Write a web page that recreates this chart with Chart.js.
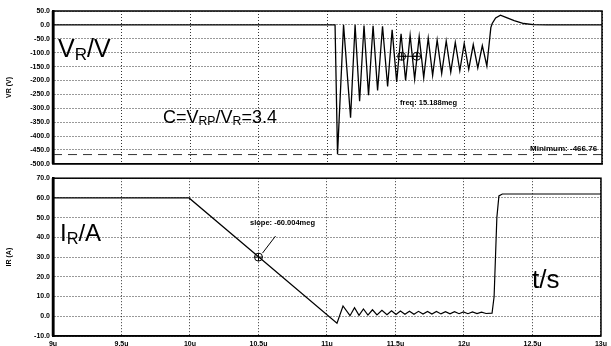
<!DOCTYPE html>
<html>
<head>
<meta charset="utf-8">
<script src="https://cdn.jsdelivr.net/npm/chart.js@4.4.1/dist/chart.umd.min.js"></script>
<style>
  html, body { margin: 0; padding: 0; background: #fff; }
  #wrap { position: relative; width: 611px; height: 346px; overflow: hidden; font-family: 'Liberation Sans', Arial, sans-serif; color: #000; }
  .panel { position: absolute; left: 0; width: 611px; }
  .big { position: absolute; line-height: 1; white-space: nowrap; }
  .big sub { font-size: 0.68em; vertical-align: -0.18em; line-height: 0; }
  .small { position: absolute; font-size: 7.5px; font-weight: bold; line-height: 1; white-space: nowrap; }
</style>
</head>
<body>
<div id="wrap">
  <div class="panel" style="top:0;height:171px"><canvas id="vrChart"></canvas></div>
  <div class="panel" style="top:171px;height:175px"><canvas id="irChart"></canvas></div>

  <div class="big" style="left:58px;top:36px;font-size:25px">V<sub>R</sub>/V</div>
  <div class="big" style="left:163px;top:108px;font-size:18px">C=V<sub>RP</sub>/V<sub>R</sub>=3.4</div>
  <div class="small" style="left:400px;top:99px">freq: 15.188meg</div>
  <div class="small" style="left:530px;top:145px;font-size:8px">Minimum: -466.76</div>
  <div class="big" style="left:60px;top:221px;font-size:24px">I<sub>R</sub>/A</div>
  <div class="small" style="left:250px;top:219px">slope: -60.004meg</div>
  <div class="big" style="left:532px;top:266px;font-size:26px">t/s</div>
</div>

<script>
// --- данные (время в мкс) ---
const xTickLabels = ['9u', '9.5u', '10u', '10.5u', '11u', '11.5u', '12u', '12.5u', '13u'];

// напряжение VR, В
const vrTime = [9, 11.055, 11.073,
  11.117, 11.168, 11.201, 11.234, 11.266, 11.299, 11.332, 11.365,
  11.401, 11.438, 11.471, 11.504, 11.536, 11.569, 11.602, 11.635,
  11.668, 11.701, 11.734, 11.766, 11.799, 11.832, 11.865, 11.898,
  11.931, 11.964, 11.996, 12.029, 12.062, 12.095, 12.128, 12.161,
  12.19, 12.2, 12.225, 12.26, 12.3, 12.36, 12.43, 12.5, 12.6, 13];
const vrValue = [0, 0, -466,
  0, -334, 0, -275, -2, -253, -3, -236,
  -5, -222, -18, -205, -32, -200, -38, -195,
  -42, -190, -48, -182, -54, -175, -58, -170,
  -63, -165, -67, -160, -71, -155, -75, -148,
  -10, 5, 25, 35, 27, 15, 5, 1, 0, 0];
const vrMinimum = -466.76;
const cursorTime = [11.54, 11.65];
const cursorValue = [-113, -113];

// ток IR, А
const irTime = [9, 9.993, 11.073,
  11.117, 11.168, 11.201, 11.234, 11.266, 11.299, 11.332, 11.365,
  11.401, 11.438, 11.471, 11.504, 11.536, 11.569, 11.602, 11.635,
  11.668, 11.701, 11.734, 11.766, 11.799, 11.832, 11.865, 11.898,
  11.931, 11.964, 11.996, 12.029, 12.062, 12.095, 12.128, 12.161,
  12.205, 12.22, 12.24, 12.255, 12.28, 13];
const irValue = [60, 60, -3.5,
  5.2, 0.3, 4.3, 0.5, 3.7, 0.6, 3.3, 0.7,
  3.0, 0.8, 2.8, 0.9, 2.7, 1.0, 2.6, 1.0,
  2.5, 1.1, 2.4, 1.1, 2.4, 1.2, 2.3, 1.2,
  2.3, 1.3, 2.2, 1.3, 2.2, 1.4, 2.1, 1.4,
  1.6, 10, 50, 61, 62, 62];
const slopeTime = [10.5];
const slopeValue = [30];

const FONT = "'Liberation Sans', Arial, sans-serif";
const toXY = (ts, vs) => ts.map((t, i) => ({ x: t, y: vs[i] }));

// рамка вокруг области графика
const framePlugin = {
  id: 'frame',
  afterDatasetsDraw(chart) {
    const { ctx, chartArea: a } = chart;
    ctx.save();
    ctx.strokeStyle = '#000';
    ctx.lineWidth = 1.5;
    ctx.strokeRect(a.left, a.top, a.right - a.left, a.bottom - a.top);
    ctx.lineWidth = 2.5;
    ctx.beginPath();
    ctx.moveTo(a.left, a.top);
    ctx.lineTo(a.left, a.bottom);
    ctx.stroke();
    ctx.restore();
  }
};

// выноска от подписи slope к маркеру
const leaderPlugin = {
  id: 'leader',
  afterDatasetsDraw(chart) {
    const { ctx, scales } = chart;
    const px = scales.x.getPixelForValue(slopeTime[0]);
    const py = scales.y.getPixelForValue(slopeValue[0]);
    ctx.save();
    ctx.strokeStyle = '#000';
    ctx.lineWidth = 1;
    ctx.beginPath();
    ctx.moveTo(px + 4, py - 4);
    ctx.lineTo(px + 17, py - 21);
    ctx.stroke();
    ctx.restore();
  }
};

function xScale(showLabels) {
  return {
    type: 'linear', min: 9, max: 13,
    ticks: {
      stepSize: 0.5, display: showLabels, autoSkip: false, maxRotation: 0,
      color: '#000', padding: 4, font: { family: FONT, size: 7, weight: 'bold' },
      callback: (v, i) => xTickLabels[i]
    },
    grid: { color: 'rgba(0,0,0,0.8)', lineWidth: 1, drawTicks: false },
    border: { display: true, color: '#000', width: 1.5, dash: [1, 2] },
    afterFit: s => { s.height = showLabels ? 10 : 4; }
  };
}

function yScale(min, max, step, title) {
  return {
    min: min, max: max,
    ticks: {
      stepSize: step, color: '#000', padding: 3,
      font: { family: FONT, size: 7, weight: 'bold' },
      callback: v => v.toFixed(1)
    },
    grid: { color: 'rgba(0,0,0,0.8)', lineWidth: 1, drawTicks: false },
    border: { display: true, color: '#000', width: 2.5, dash: [1, 2] },
    title: {
      display: true, text: title, color: '#000',
      font: { family: FONT, size: 7, weight: 'bold' }, padding: { top: 5, bottom: 0 }
    },
    afterFit: s => { s.width = 53; }
  };
}

const common = {
  responsive: true,
  maintainAspectRatio: false,
  animation: false,
  devicePixelRatio: 1,
  plugins: { legend: { display: false }, tooltip: { enabled: false } }
};

// верхний график: VR
new Chart(document.getElementById('vrChart'), {
  type: 'line',
  data: {
    datasets: [
      { data: toXY(vrTime, vrValue), borderColor: '#000', borderWidth: 1.3, pointRadius: 0, tension: 0 },
      { data: [{ x: 9, y: vrMinimum }, { x: 13, y: vrMinimum }], borderColor: '#333', borderWidth: 1,
        borderDash: [9, 6], pointRadius: 0 },
      { data: toXY(cursorTime, cursorValue), borderColor: '#000', borderWidth: 1, pointRadius: 4,
        pointStyle: 'circle', pointBackgroundColor: 'rgba(0,0,0,0)', pointBorderColor: '#000' },
      { data: toXY(cursorTime, cursorValue), showLine: false, pointRadius: 4, pointStyle: 'cross',
        pointBorderColor: '#000', pointBorderWidth: 1 }
    ]
  },
  options: Object.assign({}, common, {
    layout: { padding: { top: 11, right: 9, bottom: 0, left: 0 } },
    scales: { x: xScale(false), y: yScale(-500, 50, 50, 'VR (V)') }
  }),
  plugins: [framePlugin]
});

// нижний график: IR
new Chart(document.getElementById('irChart'), {
  type: 'line',
  data: {
    datasets: [
      { data: toXY(irTime, irValue), borderColor: '#000', borderWidth: 1.2, pointRadius: 0, tension: 0 },
      { data: toXY(slopeTime, slopeValue), showLine: false, pointRadius: 4, pointStyle: 'circle',
        pointBackgroundColor: 'rgba(0,0,0,0)', pointBorderColor: '#000', pointBorderWidth: 1 },
      { data: toXY(slopeTime, slopeValue), showLine: false, pointRadius: 4, pointStyle: 'cross',
        pointBorderColor: '#000', pointBorderWidth: 1 }
    ]
  },
  options: Object.assign({}, common, {
    layout: { padding: { top: 6, right: 9, bottom: 0, left: 0 } },
    scales: { x: xScale(true), y: yScale(-10, 70, 10, 'IR (A)') }
  }),
  plugins: [framePlugin, leaderPlugin]
});
</script>
</body>
</html>
